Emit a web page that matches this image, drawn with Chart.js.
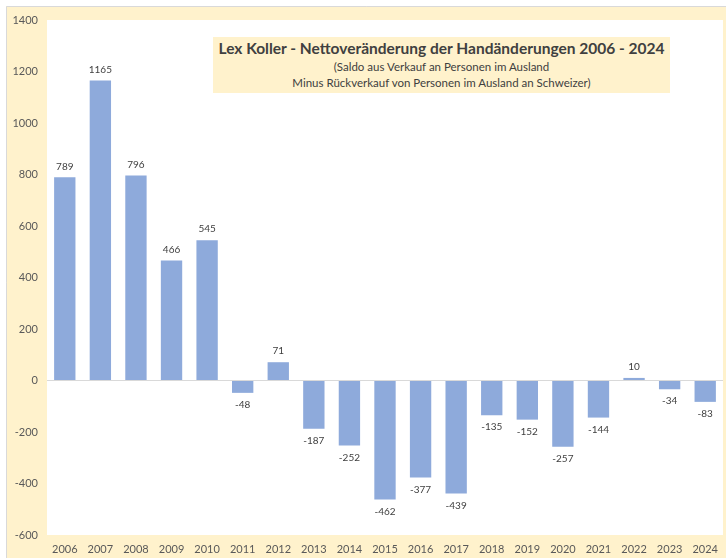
<!DOCTYPE html>
<html>
<head>
<meta charset="utf-8">
<script src="https://cdn.jsdelivr.net/npm/chart.js@4"></script>
<style>
  html, body { margin: 0; padding: 0; background: #fff; }
  #wrap { position: relative; width: 726px; height: 558px; }
  #title {
    position: absolute; left: 213px; top: 37px; width: 457px; height: 56px;
    background: #fff2cc; color: #404040; text-align: center;
    font-family: Lato, "Open Sans", sans-serif;
  }
  #title .main { font-weight: bold; font-size: 15.5px; margin-top: 1px; line-height: 21px; }
  #title .sub { font-size: 11.5px; line-height: 16px; }
</style>
</head>
<body>
<div id="wrap">
  <canvas id="chart" width="726" height="558"></canvas>
  <div id="title">
    <div class="main">Lex Koller - Nettoveränderung der Handänderungen 2006 - 2024</div>
    <div class="sub">(Saldo aus Verkauf an Personen im Ausland</div>
    <div class="sub">Minus Rückverkauf von Personen im Ausland an Schweizer)</div>
  </div>
</div>
<script>
const years = ["2006", "2007", "2008", "2009", "2010", "2011", "2012", "2013", "2014", "2015",
  "2016", "2017", "2018", "2019", "2020", "2021", "2022", "2023", "2024"];
const saldo = [789, 1165, 796, 466, 545, -48, 71, -187, -252, -462,
  -377, -439, -135, -152, -257, -144, 10, -34, -83];
const yTicks = { min: -600, max: 1400, step: 200 };

const FONT = "Lato, 'Open Sans', sans-serif";

// Hintergrund: cremefarbener Rahmen, weisse Zeichenfläche
const backdrop = {
  id: "backdrop",
  beforeDraw(c) {
    const { ctx, chartArea: a } = c;
    ctx.save();
    ctx.fillStyle = "#fff2cc";
    ctx.fillRect(6, 6, 720, 552);
    ctx.strokeStyle = "#d9d9d9";
    ctx.lineWidth = 1;
    ctx.beginPath();
    ctx.moveTo(6.5, 558); ctx.lineTo(6.5, 6.5); ctx.lineTo(726, 6.5);
    ctx.stroke();
    ctx.fillStyle = "#ffffff";
    ctx.fillRect(a.left, a.top, a.right - a.left, a.bottom - a.top);
    ctx.restore();
  }
};

// Werte über / unter den Balken
const valueLabels = {
  id: "valueLabels",
  afterDatasetsDraw(c) {
    const { ctx } = c;
    const meta = c.getDatasetMeta(0);
    ctx.save();
    ctx.font = "10px " + FONT;
    ctx.fillStyle = "#404040";
    ctx.textAlign = "center";
    meta.data.forEach((bar, i) => {
      const v = saldo[i];
      if (v >= 0) {
        ctx.textBaseline = "bottom";
        ctx.fillText(String(v), bar.x, bar.y - 6);
      } else {
        ctx.textBaseline = "top";
        ctx.fillText(String(v), bar.x, bar.y + 7);
      }
    });
    ctx.restore();
  }
};

new Chart(document.getElementById("chart"), {
  type: "bar",
  data: {
    labels: years,
    datasets: [{
      data: saldo,
      backgroundColor: "#8eaadb",
      categoryPercentage: 1,
      barPercentage: 0.6
    }]
  },
  options: {
    responsive: false,
    animation: false,
    layout: { padding: { left: 6, top: 20, right: 3, bottom: 0 } },
    plugins: { legend: { display: false }, tooltip: { enabled: false } },
    scales: {
      x: {
        grid: { display: false },
        border: { display: false },
        ticks: { color: "#595959", font: { family: FONT, size: 11 }, padding: 0, maxRotation: 0 },
        afterFit(s) { s.height = 23; }
      },
      y: {
        min: yTicks.min,
        max: yTicks.max,
        border: { display: false },
        grid: {
          drawTicks: false,
          color: (t) => (t.tick && t.tick.value === 0 ? "#d9d9d9" : "rgba(0,0,0,0)")
        },
        ticks: {
          stepSize: yTicks.step, color: "#595959", font: { family: FONT, size: 11 }, padding: 9,
          callback: (v) => String(v)
        },
        afterFit(s) { s.width = 41; }
      }
    }
  },
  plugins: [backdrop, valueLabels]
});
</script>
</body>
</html>
